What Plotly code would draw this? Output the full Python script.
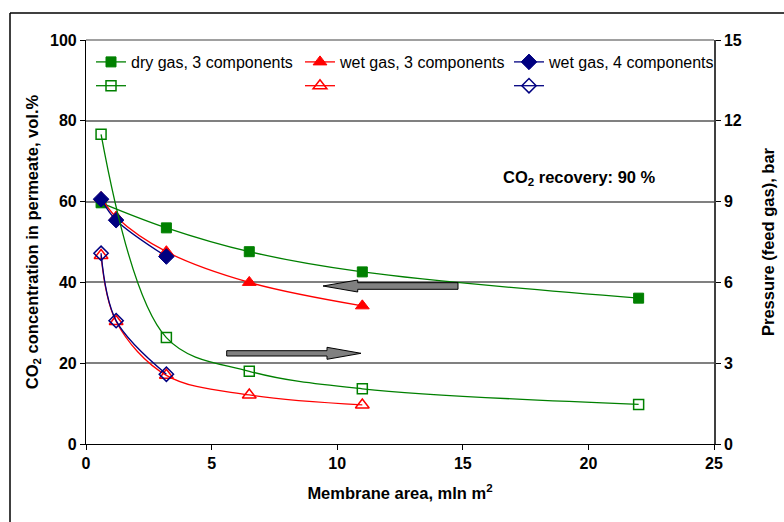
import plotly.graph_objects as go

# ---------------- data ----------------
area_dry = [0.6, 3.2, 6.5, 11.0, 22.0]
co2_dry3 = [59.7, 53.5, 47.6, 42.6, 36.1]
p_dry3 = [11.5, 3.95, 2.7, 2.05, 1.47]

area_wet3 = [0.6, 1.2, 3.2, 6.5, 11.0]
co2_wet3 = [61.0, 56.2, 47.6, 40.0, 34.2]
p_wet3 = [7.0, 4.55, 2.55, 1.82, 1.45]

area_wet4 = [0.6, 1.2, 3.2]
co2_wet4 = [60.6, 55.4, 46.4]
p_wet4 = [7.08, 4.58, 2.59]

names = ["dry gas, 3 components", "wet gas, 3 components", "wet gas, 4 components"]
colors = ["#008000", "#FF0000", "#000080"]

FONT = "Liberation Sans, Arial, sans-serif"

# ---------------- layout geometry (pixels) ----------------
W, H = 784, 522
L, R, T, B = 86, 714, 40, 444

def px(xp):
    return (xp - L) / (R - L)

def py(yp):
    return (B - yp) / (B - T)

fig = go.Figure()

line_w = 1.3
series = [
    (area_dry, co2_dry3, p_dry3, "square", 10, 10),
    (area_wet3, co2_wet3, p_wet3, "triangle-up", 12, 12),
    (area_wet4, co2_wet4, p_wet4, "diamond", 12, 11),
]
legends = ["legend", "legend2", "legend3"]
for i, (xs, yl, yr, sym, s_f, s_o) in enumerate(series):
    fig.add_trace(go.Scatter(x=xs, y=yl, name=names[i], mode="lines+markers",
                             legend=legends[i],
                             line=dict(color=colors[i], width=line_w, shape="spline"),
                             marker=dict(symbol=sym, size=s_f, color=colors[i],
                                         line=dict(color=colors[i], width=1))))
    fig.add_trace(go.Scatter(x=xs, y=yr, name=" ", yaxis="y2", mode="lines+markers",
                             legend=legends[i],
                             line=dict(color=colors[i], width=line_w, shape="spline"),
                             marker=dict(symbol=sym + "-open", size=s_o, color=colors[i],
                                         line=dict(color=colors[i], width=1.5))))

# ---------------- decorative arrows ----------------
def poly(points):
    return "M " + " L ".join(f"{px(a):.5f},{py(b):.5f}" for a, b in points) + " Z"

left_arrow = [(323, 286), (357.7, 280), (357.7, 282.7), (458, 282.7), (458, 289.3),
              (357.7, 289.3), (357.7, 292)]
right_arrow = [(361, 353.3), (327, 347.3), (327, 350.7), (226.7, 350.7), (226.7, 356),
               (327, 356), (327, 359.3)]
shapes = []
for pts in (left_arrow, right_arrow):
    shapes.append(dict(type="path", xref="paper", yref="paper", path=poly(pts),
                       fillcolor="#808080", line=dict(color="#000000", width=1)))
# top gridline at 100
shapes.append(dict(type="line", xref="paper", yref="paper", x0=0, x1=1, y0=1, y1=1,
                   line=dict(color="#808080", width=1.5), layer="below"))
# outer frame (left and top edges)
shapes.append(dict(type="line", xref="paper", yref="paper", x0=px(10), x1=px(10),
                   y0=py(13), y1=py(530), line=dict(color="#000000", width=1.5)))
shapes.append(dict(type="line", xref="paper", yref="paper", x0=px(10), x1=px(800),
                   y0=py(13), y1=py(13), line=dict(color="#000000", width=1.5)))

tickfont = dict(family=FONT, size=16, color="#000000", weight="bold")
titlefont = dict(family=FONT, size=16.5, color="#000000", weight="bold")

def legend_at(xpix):
    return dict(orientation="v", x=px(xpix), y=py(45), xanchor="left", yanchor="top",
                tracegroupgap=0, font=dict(family=FONT, size=16, color="#000000"),
                bgcolor="rgba(0,0,0,0)", traceorder="normal")

fig.update_layout(
    width=W, height=H,
    margin=dict(l=L, r=W - R, t=T, b=H - B, autoexpand=False),
    paper_bgcolor="white", plot_bgcolor="white",
    font=dict(family=FONT, size=16, color="#000000"),
    showlegend=True,
    legend=legend_at(91),
    legend2=legend_at(300),
    legend3=legend_at(509),
    xaxis=dict(range=[0, 25], dtick=5, tick0=0, showgrid=False, zeroline=False,
               showline=True, linecolor="#000000", linewidth=1.2,
               ticks="outside", ticklen=5, tickcolor="#000000",
               tickfont=tickfont,
               title=dict(text="Membrane area, mln m<sup>2</sup>", font=titlefont, standoff=16)),
    yaxis=dict(range=[0, 100], dtick=20, tick0=0, showgrid=True, gridcolor="#808080",
               gridwidth=1.5, zeroline=False, showline=True, linecolor="#000000",
               linewidth=1.2, ticks="outside", ticklen=5, tickcolor="#000000",
               tickfont=tickfont,
               title=dict(text="CO<sub>2</sub> concentration in permeate, vol.%",
                          font=titlefont, standoff=7)),
    yaxis2=dict(range=[0, 15], dtick=3, tick0=0, overlaying="y", side="right",
                showgrid=False, zeroline=False, showline=True, linecolor="#404040",
                linewidth=1.5, ticks="outside", ticklen=5, tickcolor="#000000",
                tickfont=tickfont,
                title=dict(text="Pressure (feed gas), bar", font=titlefont, standoff=22)),
    shapes=shapes,
    annotations=[dict(xref="paper", yref="paper", x=px(501), y=py(178),
                      xanchor="left", yanchor="middle", showarrow=False,
                      text="CO<sub>2</sub> recovery: 90 %",
                      font=dict(family=FONT, size=16.5, color="#000000", weight="bold"))],
)

fig.write_html("out.html")
